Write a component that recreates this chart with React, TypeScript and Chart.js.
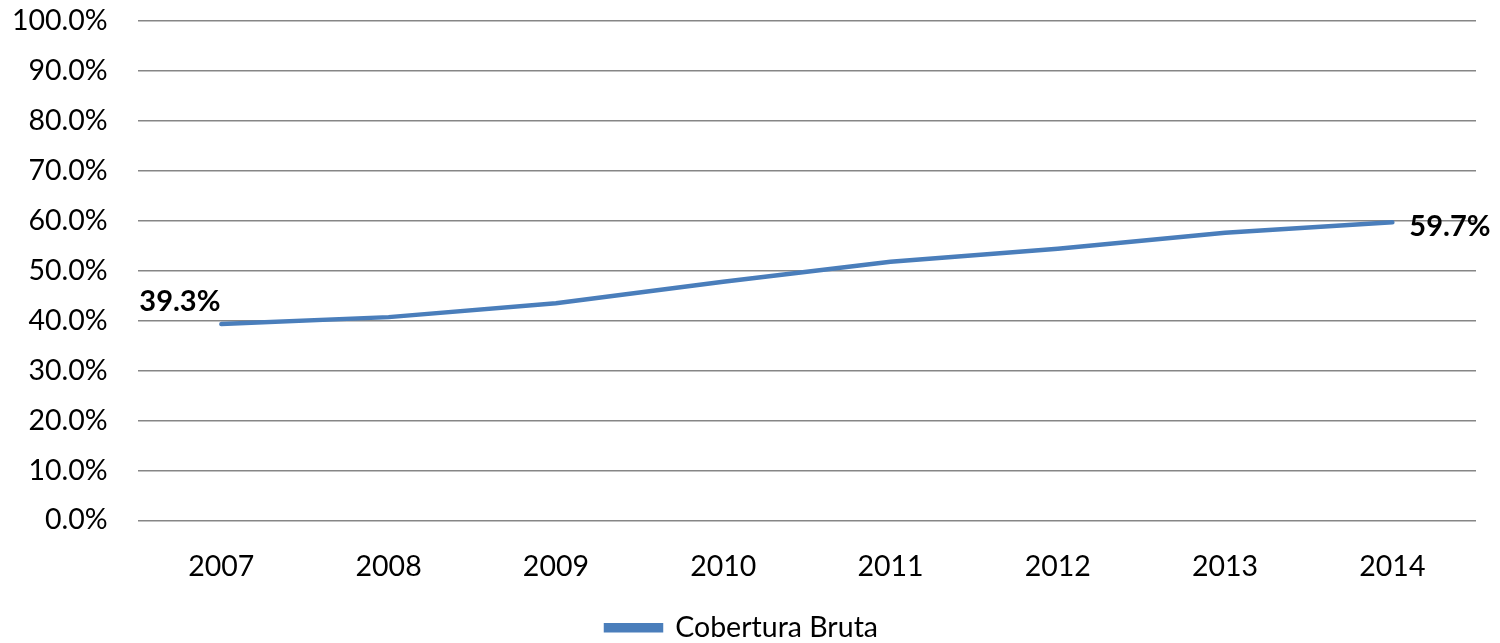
import React, { useEffect, useRef } from "react";
import { Chart, registerables } from "chart.js";

Chart.register(...registerables);

const categories = ["2007", "2008", "2009", "2010", "2011", "2012", "2013", "2014"];
const coberturaBruta = [39.3, 40.7, 43.5, 47.8, 51.8, 54.4, 57.6, 59.7];
const seriesLabel = "Cobertura Bruta";
const labeledIndexes = [0, 7];

const FONT = "Lato, 'Open Sans', sans-serif";
const LINE_COLOR = "#4A7EBB";
const FS = 28.5;

const endLabels = {
  id: "endLabels",
  afterDatasetsDraw(chart: any) {
    const meta = chart.getDatasetMeta(0);
    const ctx = chart.ctx;
    ctx.save();
    ctx.font = `bold 29px ${FONT}`;
    ctx.fillStyle = "#000";
    ctx.textBaseline = "middle";
    const n = meta.data.length;
    labeledIndexes.forEach((i) => {
      const pt = meta.data[i];
      const txt = coberturaBruta[i].toFixed(1) + "%";
      ctx.textAlign = "left";
      if (i === 0) {
        ctx.fillText(txt, pt.x - 82, pt.y - 22);
      } else if (i === n - 1) {
        ctx.fillText(txt, pt.x + 17, pt.y + 4);
      }
    });
    ctx.restore();
  },
};

export default function App() {
  const ref = useRef<HTMLCanvasElement>(null);
  useEffect(() => {
    document.body.style.margin = "0";
    const chart = new Chart(ref.current!, {
      type: "line",
      data: {
        labels: categories,
        datasets: [
          {
            label: seriesLabel,
            data: coberturaBruta,
            borderColor: LINE_COLOR,
            backgroundColor: LINE_COLOR,
            borderWidth: 4.5,
            borderCapStyle: "round",
            pointRadius: 0,
            tension: 0,
          },
        ],
      },
      options: {
        animation: false,
        responsive: false,
        maintainAspectRatio: false,
        layout: { padding: { top: 0, right: 24, left: 8, bottom: 0 } },
        scales: {
          x: {
            offset: true,
            grid: { display: false, drawTicks: false },
            border: { display: false },
            ticks: { color: "#000", font: { family: FONT, size: FS }, padding: 29.5 },
          },
          y: {
            min: 0,
            max: 100,
            ticks: {
              stepSize: 10,
              color: "#000",
              font: { family: FONT, size: FS },
              padding: 4,
              callback: (v: any) => Number(v).toFixed(1) + "%",
            },
            grid: {
              color: "#868686",
              lineWidth: 1.5,
              drawTicks: true,
              tickLength: 26,
              tickColor: "rgba(0,0,0,0)",
            },
            border: { display: false },
          },
        },
        plugins: {
          legend: {
            position: "bottom",
            labels: {
              color: "#000",
              font: { family: FONT, size: FS },
              boxWidth: 55,
              boxHeight: 5,
              padding: 0,
            },
          },
          tooltip: { enabled: false },
        },
      },
      plugins: [endLabels],
    });
    return () => chart.destroy();
  }, []);
  return (
    <div style={{ width: 1500, height: 643, overflow: "hidden" }}>
      <canvas ref={ref} width={1500} height={652} style={{ display: "block" }} />
    </div>
  );
}
